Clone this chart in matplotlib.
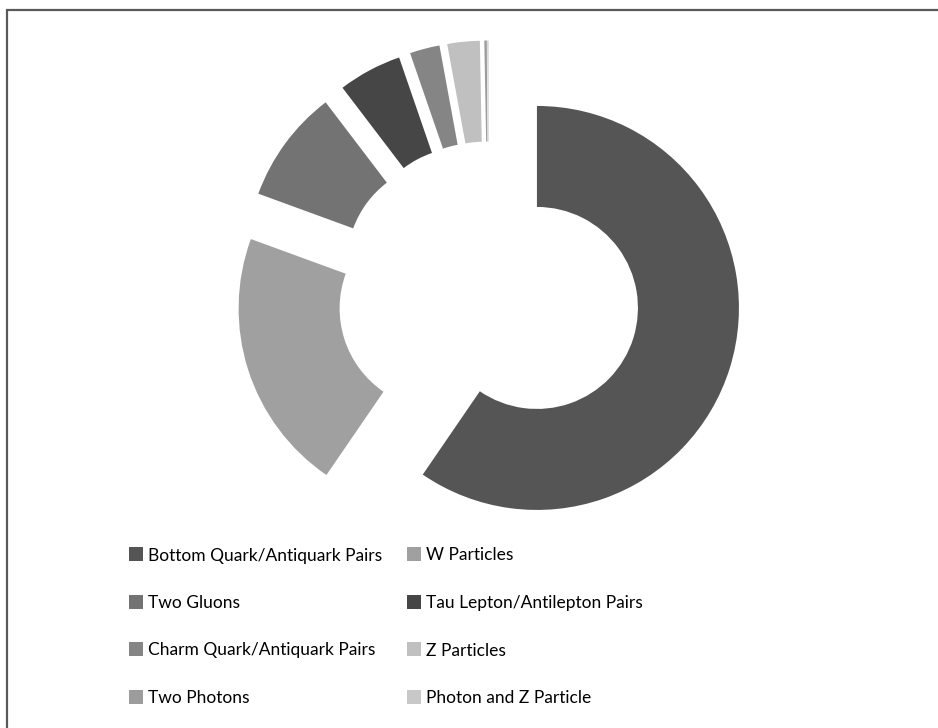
import matplotlib
matplotlib.use("Agg")
import matplotlib.pyplot as plt
from matplotlib.patches import Rectangle

labels = ["Bottom Quark/Antiquark Pairs", "W Particles", "Two Gluons",
          "Tau Lepton/Antilepton Pairs", "Charm Quark/Antiquark Pairs",
          "Z Particles", "Two Photons", "Photon and Z Particle"]
values = [59.8, 21.1, 9.1, 5.1, 2.4, 2.6, 0.2, 0.1]
colors = ["#555555", "#A0A0A0", "#737373", "#464646", "#858585",
          "#C0C0C0", "#9C9C9C", "#C8C8C8"]

W, H = 938, 728
fig = plt.figure(figsize=(W / 100, H / 100), dpi=100)
ax = fig.add_axes([0, 0, 1, 1])

R = 202
wedges, _ = ax.pie(values, colors=colors, startangle=90, counterclock=False,
                   center=(488.7, H - 293), radius=R,
                   explode=[0.25 * R] * len(values),
                   wedgeprops=dict(width=R * 0.5, linewidth=0), frame=True)
ax.set_xlim(0, W)
ax.set_ylim(0, H)
ax.set_aspect("equal")
ax.axis("off")

# outer border (chart area frame)
fig.patches.append(Rectangle((6.5, -10), W + 20, H - 9 + 10 - 0.5,
                             transform=None, fill=False, edgecolor="#595959",
                             linewidth=1.6))

# legend, row-wise in two columns
family = "Lato"
renderer = fig.canvas.get_renderer()
t = fig.text(0, 0, labels[0], fontsize=10, family=family)
w10 = t.get_window_extent(renderer).width
t.remove()
fs = 10 * 235 / w10

col_x = [129, 407]
row_y = [554, 601.5, 649, 696.5]
sq = 14
for i, lab in enumerate(labels):
    r, c = divmod(i, 2)
    x = col_x[c]
    y = H - row_y[r]
    ax.add_patch(Rectangle((x, y - sq / 2), sq, sq, facecolor=colors[i],
                           edgecolor="none"))
    ax.text(x + sq + 4.5, y, lab, fontsize=fs, family=family,
            va="center_baseline", ha="left", color="#000000")

fig.savefig("out.png", dpi=100)
